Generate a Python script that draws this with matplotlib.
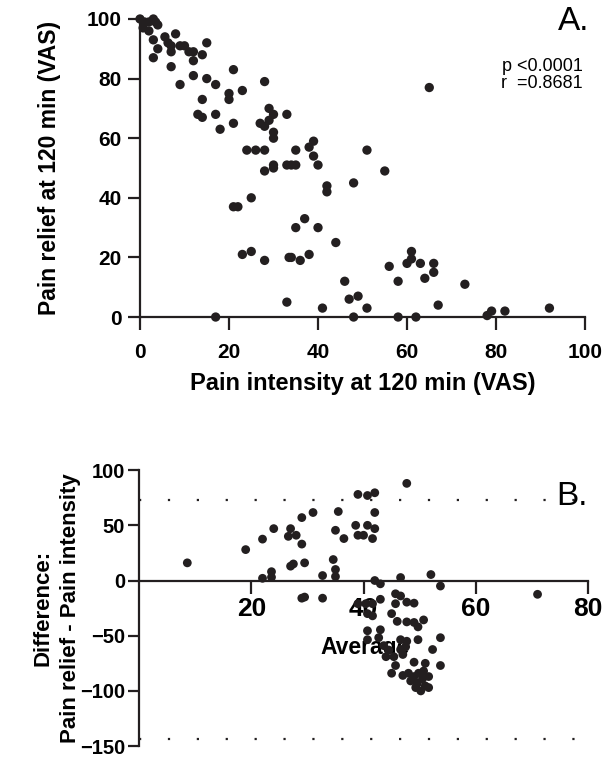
import matplotlib
matplotlib.use("Agg")
from matplotlib import pyplot as plt

plt.rcParams['font.family'] = ['Liberation Sans', 'DejaVu Sans']

dot = '#231f20'

# panel A: pain intensity vs pain relief at 120 min
intensity = [0, 1, 2, 3, 3.5, 4, 0.7, 2, 3, 4, 3, 5.6, 6.3, 7, 7, 8, 9, 10, 11, 12,
             12, 14, 15, 7, 12, 9, 15, 17, 21, 14, 20, 20, 23, 28, 13, 14, 17, 18, 21, 27,
             28, 29, 30, 29, 33, 30, 30, 24, 26, 28, 28, 30, 30, 33, 21, 22, 25, 23, 25, 28,
             33.5, 33, 17, 65, 35, 38, 39, 39, 34, 35, 40, 51, 55, 42, 42, 48, 37, 35, 40, 44,
             34, 36, 38, 46, 47, 49, 51, 41, 48, 58, 62, 56, 58, 61, 60, 61, 63, 66, 66, 64,
             67, 73, 78, 79, 82, 92]
relief = [100, 99, 99, 100, 99, 98, 97, 96, 93, 90, 87, 94, 92, 91, 89, 95, 91, 91, 89, 89,
          86, 88, 92, 84, 81, 78, 80, 78, 83, 73, 75, 73, 76, 79, 68, 67, 68, 63, 65, 65,
          64, 70, 68, 66, 68, 62, 60, 56, 56, 56, 49, 51, 50, 51, 37, 37, 40, 21, 22, 19,
          20, 5, 0, 77, 56, 57, 59, 54, 51, 51, 51, 56, 49, 44, 42, 45, 33, 30, 30, 25,
          20, 19, 21, 12, 6, 7, 3, 3, 0, 0, 0, 17, 12, 22, 18, 19.5, 18, 18, 15, 13,
          4, 11, 0.5, 2, 2, 3]
stats_text = "p <0.0001\nr  =0.8681"

# panel B: Bland-Altman style difference plot
average = [8.6, 19, 22, 24, 27, 26.6, 28, 29, 29, 27, 27.5, 29.5, 22, 23.6, 23.6, 29, 29.5,
           47.7, 39, 40.7, 42, 31, 35.5, 42, 35, 36.5, 38.6, 40.7, 42, 39, 40, 41.6, 34.6,
           35, 35, 32.7, 42, 43, 46.6, 52, 53.7, 32.7, 39, 40.4, 41.6, 43, 45.7, 46.6, 47.7,
           49, 45.7, 45, 46, 47.7, 49, 49.7, 50.7, 40.7, 41.6, 40.7, 43, 40.7, 42.7, 46.6,
           47.7, 49.7, 53.7, 43.6, 44.5, 46.6, 47.5, 44, 45.4, 47, 52.3, 45.7, 45, 49, 51,
           53.7, 47, 48, 49, 49.8, 50.7, 51.6, 48.4, 49.6, 50.5, 49.3, 50.2, 51, 51.6, 71]
difference = [16, 28, 37.5, 47, 47, 40, 41, 57, 33, 13, 15, 16, 2, 8, 3, -16, -15,
              88, 78, 77, 79.5, 61.6, 62.5, 61.6, 45.5, 38, 50, 50, 47, 41, 41, 38, 19,
              10, 3.6, 4.5, 0, -3, 2.7, 5.4, -5, -16, -21, -21, -21, -17, -12, -14, -19.6,
              -20.5, -21, -30, -37, -37.5, -38, -42, -35.7, -30, -32, -45.5, -44.6, -53.6, -51.8, -53.6,
              -55, -53.6, -51.8, -59, -63, -62.5, -60, -69, -69, -67, -62.5, -77, -84, -74, -75,
              -77, -86, -84, -87, -84, -82, -87, -91, -93, -89, -97, -100, -95.5, -97, -12.5]
upper_limit = 72.5
lower_limit = -143.5

fig = plt.figure(figsize=(6.05, 7.59), dpi=100)

# ---- A ----
ax1 = fig.add_axes([0.2314, 0.5823, 0.7356, 0.3927])
ax1.scatter(intensity, relief, s=45, color=dot, edgecolors='none', clip_on=False, zorder=3)
ax1.set_xlim(0, 100)
ax1.set_ylim(0, 100)
ax1.set_xticks([0, 20, 40, 60, 80, 100])
ax1.set_yticks([0, 20, 40, 60, 80, 100])
ax1.spines['top'].set_visible(False)
ax1.spines['right'].set_visible(False)
for s in ['left', 'bottom']:
    ax1.spines[s].set_linewidth(1.6)
    ax1.spines[s].set_color(dot)
ax1.tick_params(length=9, width=1.6, color=dot, pad=4, labelsize=15)
ax1.tick_params(axis='x', pad=10)
for lab in ax1.get_xticklabels() + ax1.get_yticklabels():
    lab.set_fontweight('bold')
ax1.set_xlabel("Pain intensity at 120 min (VAS)", fontsize=17, fontweight='bold', labelpad=7)
ax1.set_ylabel("Pain relief at 120 min (VAS)", fontsize=16.5, fontweight='bold', labelpad=19)
ax1.text(1.01, 1.045, "A.", transform=ax1.transAxes, fontsize=24, ha='right', va='top')
ax1.text(0.995, 0.87, stats_text, transform=ax1.transAxes, fontsize=13, ha='right', va='top',
         linespacing=1.05)

# ---- B ----
ax2 = fig.add_axes([0.2298, 0.017, 0.7422, 0.3636])
ax2.scatter(average, difference, s=40, color=dot, edgecolors='none', clip_on=False, zorder=3)
ax2.hlines([upper_limit, lower_limit], 0, 80, colors=dot, linestyles=(0, (1, 12)), lw=1.6)
ax2.set_xlim(0, 80)
ax2.set_ylim(-150, 100)
ax2.set_xticks([20, 40, 60, 80])
ax2.set_yticks([-150, -100, -50, 0, 50, 100])
ax2.spines['top'].set_visible(False)
ax2.spines['right'].set_visible(False)
ax2.spines['bottom'].set_position(('data', 0))
for s in ['left', 'bottom']:
    ax2.spines[s].set_linewidth(1.6)
    ax2.spines[s].set_color(dot)
ax2.tick_params(axis='x', length=9, width=1.6, color=dot, labelsize=19, pad=3)
ax2.tick_params(axis='y', length=8, width=1.6, color=dot, labelsize=14.5, pad=2)
for lab in ax2.get_xticklabels() + ax2.get_yticklabels():
    lab.set_fontweight('bold')
ax2.set_xlabel("Average", fontsize=16.5, fontweight='bold')
ax2.xaxis.set_label_coords(0.503, 0.40)
ax2.set_ylabel("Difference:\nPain relief - Pain intensity", fontsize=16, fontweight='bold',
               linespacing=1.4)
ax2.yaxis.set_label_coords(-0.13, 0.5)
ax2.text(1.0, 0.96, "B.", transform=ax2.transAxes, fontsize=24, ha='right', va='top')

fig.savefig("out.png", dpi=100)
